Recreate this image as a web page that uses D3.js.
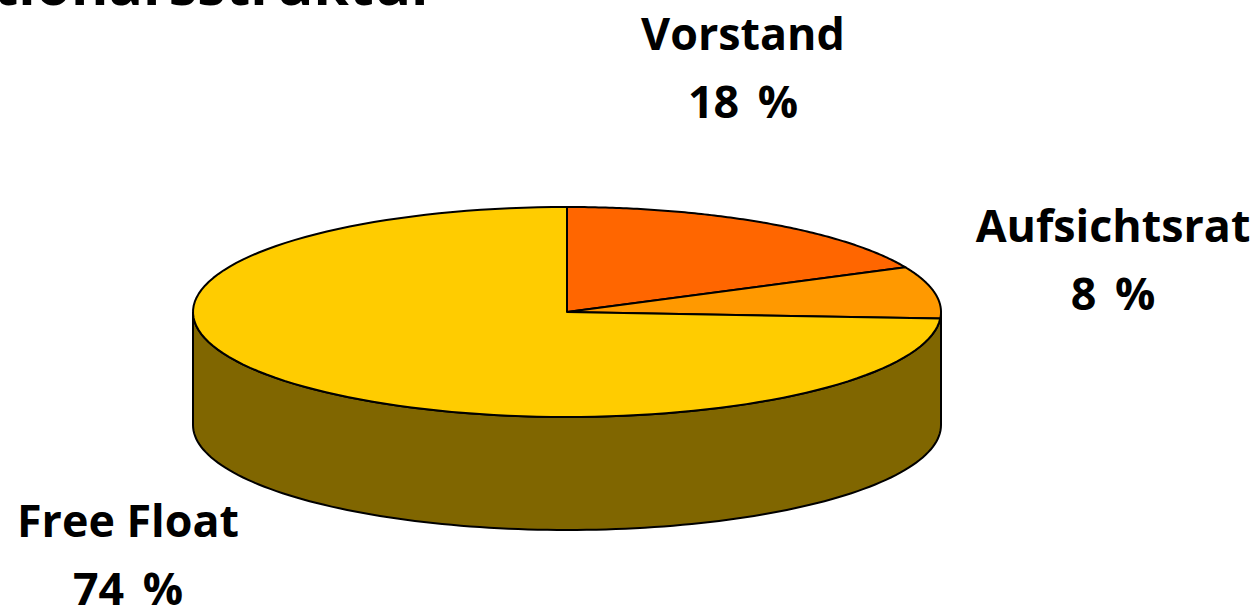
<!DOCTYPE html>
<html><head><meta charset="utf-8">
<script src="https://cdnjs.cloudflare.com/ajax/libs/d3/7.8.5/d3.min.js"></script>
<style>html,body{margin:0;padding:0;background:#fff;overflow:hidden}
text{font-family:"Open Sans",sans-serif;font-weight:700;fill:#000}</style></head>
<body><svg id="c" width="1258" height="610"></svg>
<script>
const categories=["Vorstand","Aufsichtsrat","Free Float"];
const shares=[18,8,74];
const colors=["#ff6600","#ff9900","#ffcc00"];
const sideColor="#806600";
const title="Aktionärsstruktur";
const cx=567,cy=312,rx=374,ry=105,depth=113;
const svg=d3.select("#c");
const pie=d3.pie().sort(null).value(d=>d)(shares);
const sx=d3.scaleLinear().domain([-1,1]).range([cx-rx,cx+rx]);
const sy=d3.scaleLinear().domain([-1,1]).range([cy-ry,cy+ry]);
const px=a=>sx(Math.sin(a)), py=a=>sy(-Math.cos(a));
const arcPts=(a0,a1)=>d3.range(0,121).map(i=>{const a=a0+(a1-a0)*i/120;return [px(a),py(a)];});
const line=d3.line();
// side wall
const front=arcPts(Math.PI/2,Math.PI*1.5);
svg.append("path").attr("d",line(front.concat(front.slice().reverse().map(p=>[p[0],p[1]+depth])))+"Z")
 .attr("fill",sideColor).attr("stroke","#000").attr("stroke-width",2);
// top slices
svg.selectAll("path.s").data(pie).join("path").attr("class","s")
 .attr("d",d=>line([[cx,cy]].concat(arcPts(d.startAngle,d.endAngle)))+"Z")
 .attr("fill",(d,i)=>colors[i]).attr("stroke","#000").attr("stroke-width",2).attr("stroke-linejoin","round");
// labels
const labelPos=[[743,50,118],[1113,242,310],[128,537,605]];
categories.forEach((c,i)=>{
 svg.append("text").attr("x",labelPos[i][0]).attr("y",labelPos[i][1]).attr("text-anchor","middle").attr("font-size",44.8).text(c);
 svg.append("text").attr("x",labelPos[i][0]).attr("y",labelPos[i][2]).attr("text-anchor","middle").attr("font-size",44.8).attr("word-spacing",7).text(shares[i]+" %");
});
svg.append("text").attr("x",437).attr("y",5).attr("text-anchor","end").attr("font-size",57).text(title);
</script></body></html>
